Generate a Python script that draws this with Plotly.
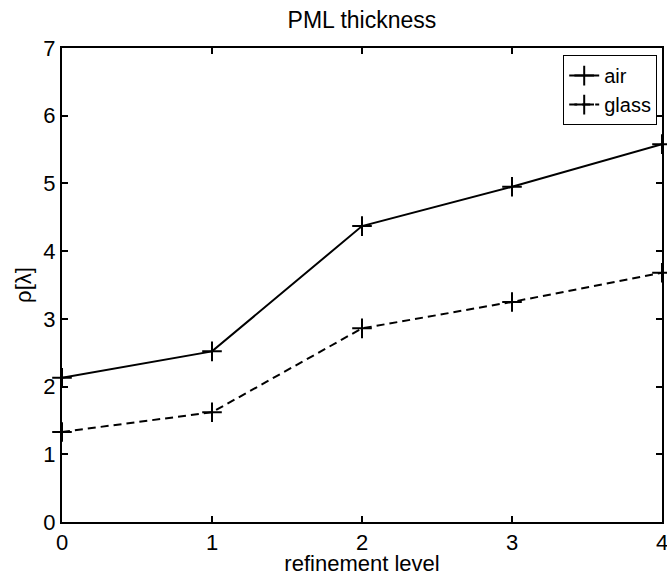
import plotly.graph_objects as go

levels = [0, 1, 2, 3, 4]
air = [2.13, 2.52, 4.37, 4.95, 5.58]
glass = [1.33, 1.62, 2.86, 3.25, 3.68]
x_ticks = [0, 1, 2, 3, 4]
y_ticks = [0, 1, 2, 3, 4, 5, 6, 7]

FONT = "Liberation Sans, Arial, Helvetica, sans-serif"

fig = go.Figure()
fig.add_trace(go.Scatter(
    x=levels, y=air, name="air", mode="lines+markers",
    line=dict(color="black", width=2),
    marker=dict(symbol="cross-thin", size=14, line=dict(color="black", width=2)),
    cliponaxis=False,
))
fig.add_trace(go.Scatter(
    x=levels, y=glass, name="glass", mode="lines+markers",
    line=dict(color="black", width=2, dash="8px,5px"),
    marker=dict(symbol="cross-thin", size=14, line=dict(color="black", width=2)),
    cliponaxis=False,
))

axis_common = dict(
    showline=True, linecolor="black", linewidth=2, mirror="ticks",
    ticks="inside", ticklen=6, tickwidth=1.5, tickcolor="black",
    showgrid=False, zeroline=False, automargin=False,
    tickfont=dict(family=FONT, size=22, color="black"),
)

fig.update_layout(
    width=669, height=576,
    margin=dict(l=62, r=7, t=48, b=54),
    paper_bgcolor="white", plot_bgcolor="white",
    title=dict(text="PML thickness", x=0.541, xanchor="center", y=0.965, yanchor="middle",
               font=dict(family=FONT, size=23, color="black")),
    xaxis=dict(range=[0, 4], tickvals=x_ticks,
               title=dict(text="refinement level", standoff=4,
                          font=dict(family=FONT, size=22, color="black")),
               **axis_common),
    yaxis=dict(range=[0, 7], tickvals=y_ticks,
               title=dict(text="ρ[λ]", standoff=6,
                          font=dict(family=FONT, size=22, color="black")),
               **axis_common),
    legend=dict(x=0.992, y=0.985, xanchor="right", yanchor="top",
                bgcolor="white", bordercolor="black", borderwidth=1,
                font=dict(family=FONT, size=20, color="black"),
                tracegroupgap=0, itemwidth=30),
    showlegend=True,
)

fig.write_html(
    "out.html",
    config={"displayModeBar": False},
    post_script="document.body.style.margin='0';document.body.style.overflow='hidden';",
)
